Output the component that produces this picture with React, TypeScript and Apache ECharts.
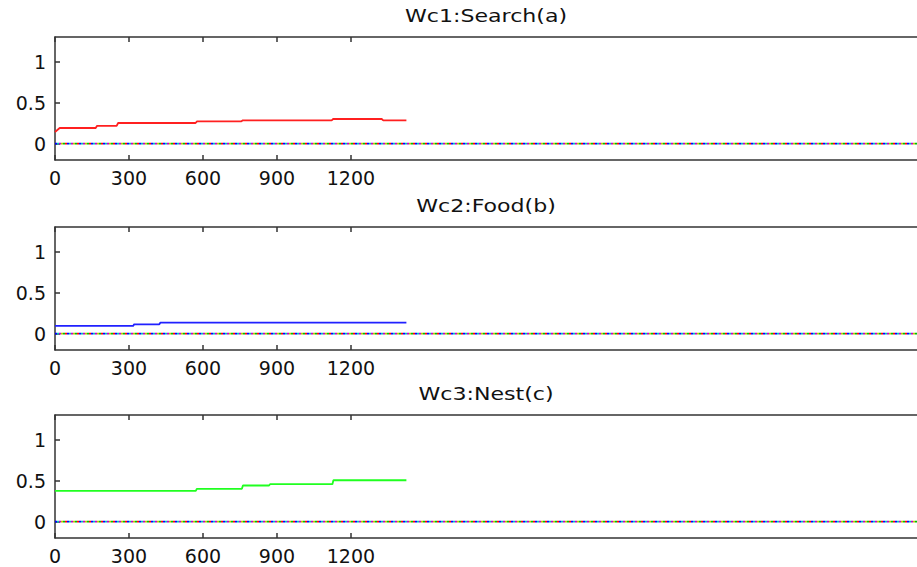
import React, { useEffect, useRef } from "react";
import * as echarts from "echarts";

// Time axis (minutes) and tick marks
const X_MAX = 3520;
const xTicks = [0, 300, 600, 900, 1200];
const yTicks = [0, 0.5, 1];

const titles = ["Wc1:Search(a)", "Wc2:Food(b)", "Wc3:Nest(c)"];

// Wc1 weight over time
const searchT = [0, 19, 165, 170, 250, 256, 570, 576, 756, 762, 1122, 1128, 1325, 1331, 1425];
const searchW = [0.142, 0.19, 0.19, 0.215, 0.215, 0.251, 0.251, 0.272, 0.272, 0.284, 0.284, 0.3, 0.3, 0.284, 0.284];

// Wc2 weight over time
const foodT = [0, 317, 321, 423, 427, 1425];
const foodW = [0.093, 0.093, 0.113, 0.113, 0.133, 0.133];

// Wc3 weight over time
const nestT = [0, 571, 575, 758, 762, 868, 872, 1125, 1129, 1425];
const nestW = [0.375, 0.375, 0.4, 0.4, 0.44, 0.44, 0.456, 0.456, 0.504, 0.504];

// Remaining weights stay at zero for the whole run
const zeroT = [0, X_MAX];
const zeroW = [0, 0];
const zeroColors = ["#0000ff", "#ff0000", "#00c000", "#c0c000", "#c000c0", "#00c0c0"];

const panelSeries = [
  { t: searchT, w: searchW, color: "#ff2020" },
  { t: foodT, w: foodW, color: "#2020ff" },
  { t: nestT, w: nestW, color: "#20ff20" },
];

const gridTops = [37, 227, 415];
const GRID_LEFT = 55;
const GRID_W = 868;
const GRID_H = 123;

const FONT = "DejaVu Sans";
const boxLine = { color: "#333", width: 1.5 };

const pairs = (t: number[], w: number[]) => t.map((v, i) => [v, w[i]]);

export default function App() {
  const ref = useRef<HTMLDivElement>(null);

  useEffect(() => {
    if (!ref.current) return;
    const chart = echarts.init(ref.current, null, { renderer: "svg" });

    const grid: any[] = [];
    const xAxis: any[] = [];
    const yAxis: any[] = [];
    const series: any[] = [];
    const graphic: any[] = [];

    gridTops.forEach((top, i) => {
      grid.push({
        left: GRID_LEFT,
        top,
        width: GRID_W,
        height: GRID_H,
        outerBoundsMode: "none",
        containLabel: false,
      });

      const tickCommon = { inside: true, length: 5, lineStyle: boxLine };
      const labelStyle = {
        color: "#111",
        fontFamily: FONT,
        fontSize: 19,
        formatter: (v: number) => String(v),
      };

      ["bottom", "top"].forEach((pos) => {
        xAxis.push({
          gridIndex: i,
          type: "value",
          min: 0,
          max: X_MAX,
          position: pos,
          axisLine: { show: true, onZero: false, lineStyle: boxLine },
          axisTick: { show: true, ...tickCommon, customValues: xTicks },
          axisLabel: {
            show: pos === "bottom",
            customValues: xTicks,
            margin: 8,
            ...labelStyle,
          },
          splitLine: { show: false },
        });
      });

      ["left", "right"].forEach((pos) => {
        yAxis.push({
          gridIndex: i,
          type: "value",
          min: -0.2,
          max: 1.3,
          position: pos,
          axisLine: { show: true, onZero: false, lineStyle: boxLine },
          axisTick: { show: true, ...tickCommon, customValues: yTicks },
          axisLabel: {
            show: pos === "left",
            customValues: yTicks,
            margin: 9,
            ...labelStyle,
          },
          splitLine: { show: false },
        });
      });

      zeroColors.forEach((c, k) => {
        series.push({
          type: "line",
          xAxisIndex: 2 * i,
          yAxisIndex: 2 * i,
          data: pairs(zeroT, zeroW),
          showSymbol: false,
          silent: true,
          lineStyle: { color: c, width: 1.6, type: [2, 10], dashOffset: k * 2 },
        });
      });

      const s = panelSeries[i];
      series.push({
        type: "line",
        xAxisIndex: 2 * i,
        yAxisIndex: 2 * i,
        data: pairs(s.t, s.w),
        showSymbol: false,
        lineStyle: { color: s.color, width: 1.8 },
      });

      graphic.push({
        type: "text",
        x: 486,
        y: top - 21,
        scaleX: 1.3,
        style: {
          text: titles[i],
          font: `17px "${FONT}"`,
          fill: "#111",
          textAlign: "center",
          textVerticalAlign: "middle",
        },
      });
    });

    chart.setOption({
      animation: false,
      backgroundColor: "#ffffff",
      grid,
      xAxis,
      yAxis,
      series,
      graphic,
    });

    return () => chart.dispose();
  }, []);

  return (
    <div
      ref={ref}
      style={{ position: "absolute", left: 0, top: 0, width: 917, height: 567, background: "#fff" }}
    />
  );
}
